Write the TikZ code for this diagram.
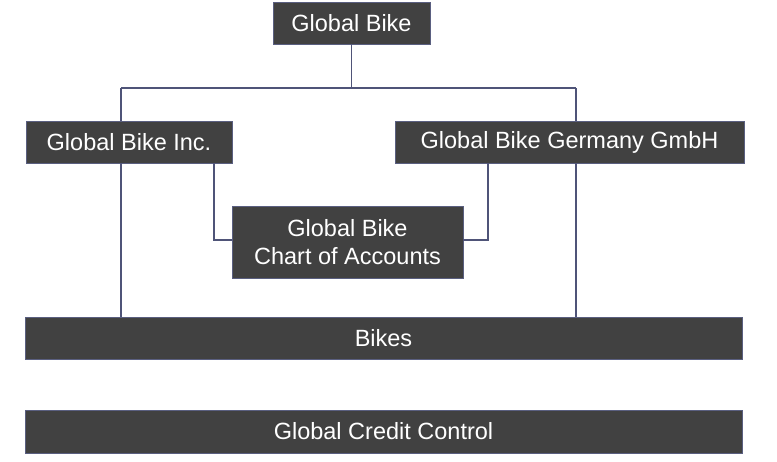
\documentclass[tikz,border=0pt]{standalone}
\usepackage{fontspec}
\setmainfont{Liberation Sans}
\definecolor{boxfill}{HTML}{414141}
\definecolor{boxline}{HTML}{5A5F80}
\definecolor{conn}{HTML}{4F5478}
\begin{document}
\begin{tikzpicture}[x=1pt,y=-1pt,
  orgbox/.style={rectangle,fill=boxfill,draw=boxline,line width=0.8pt,text=white,
    font=\fontsize{23.5}{28}\selectfont,inner sep=0pt,align=center},
  link/.style={draw=conn,line width=1.3pt}]
\useasboundingbox[fill=white] (0,0) rectangle (777,461);
\node[orgbox,minimum width=157pt,minimum height=42pt] (gb) at (351.5,23) {Global Bike};
\node[orgbox,minimum width=206pt,minimum height=42pt] (inc) at (129,142) {Global Bike Inc.};
\node[orgbox,minimum width=349pt,minimum height=42pt] (ger) at (569.5,142) {Global Bike Germany GmbH};
\node[orgbox,minimum width=231pt,minimum height=72pt] (coa) at (347.5,242) {Global Bike\\Chart of Accounts};
\node[orgbox,minimum width=717pt,minimum height=42pt] (bikes) at (383.5,338) {Bikes};
\node[orgbox,minimum width=717pt,minimum height=43pt] (gcc) at (383.5,431.5) {Global Credit Control};
\coordinate (jl) at (121,88);
\coordinate (jr) at (576,88);
\coordinate (cl) at (214,240);
\coordinate (cr) at (488,240);
\draw[link] (gb.south) -- (gb.south |- jl);
\draw[link] (jl) -- (jr);
\draw[link] (jl) -- (jl |- inc.north);
\draw[link] (jr) -- (jr |- ger.north);
\draw[link] (jl |- inc.south) -- (jl |- bikes.north);
\draw[link] (jr |- ger.south) -- (jr |- bikes.north);
\draw[link] (cl |- inc.south) -- (cl) -- (coa.west |- cl);
\draw[link] (cr |- ger.south) -- (cr) -- (coa.east |- cr);
\end{tikzpicture}
\end{document}
